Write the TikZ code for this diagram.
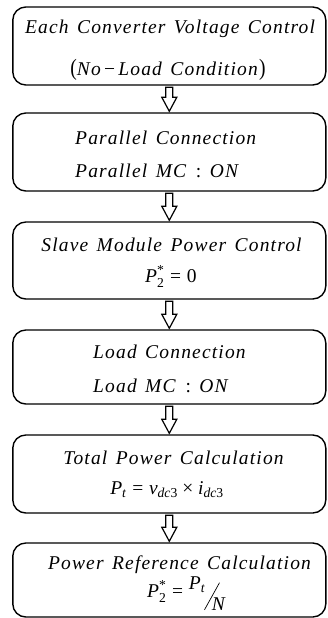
\documentclass[tikz,border=0pt]{standalone}
\usepackage{fontspec}
\usepackage{amsmath}
\setmainfont{Liberation Serif}
\newfontfamily\lsfont[LetterSpace=6,WordSpace=1.4]{Liberation Serif}
\usetikzlibrary{calc}
\newcommand{\tx}[1]{\text{\itshape #1}}
\newcommand{\up}[1]{\text{\upshape #1}}
\tikzset{
  flowbox/.style={draw, line width=1.4pt, rounded corners=13pt, minimum width=313pt, inner sep=0pt},
  wordtext/.style={font=\fontsize{19.5}{23}\lsfont\itshape, inner sep=0pt, anchor=base},
  mathtext/.style={font=\fontsize{19.5}{23}\selectfont, inner sep=0pt, anchor=base},
  blockarrow/.style={draw, line width=1.2pt, fill=white, line join=miter}
}
\begin{document}
\begin{tikzpicture}[x=1pt,y=-1pt]
\useasboundingbox (0,0) rectangle (327,618);
% boxes
\node[flowbox, minimum height=78pt] (b1) at (169.3,46) {};
\node[flowbox, minimum height=78pt] (b2) at (169.3,152) {};
\node[flowbox, minimum height=77pt] (b3) at (169.3,260.5) {};
\node[flowbox, minimum height=74pt] (b4) at (169.3,367) {};
\node[flowbox, minimum height=78pt] (b5) at (169.3,474) {};
\node[flowbox, minimum height=74pt] (b6) at (169.3,580) {};
% texts
\node[wordtext] (t1a) at (170,34) {Each Converter Voltage Control};
\node[wordtext] (t1b) at (168,75) {\textup{\scalebox{1}[1.2]{(}}No\,\textup{−}\,Load Condition\textup{\scalebox{1}[1.2]{)}}};
\node[wordtext, anchor=base west] (t2a) at (75,144) {Parallel Connection};
\node[wordtext, anchor=base west] (t2b) at (75,177) {Parallel MC \textup{:} ON};
\node[wordtext] (t3a) at (171.5,251) {Slave Module Power Control};
\node[mathtext] (t3b) at (171,282) {$\tx{P}_{\up{2}}^{\up{*}} \mathrel{\up{=}} \up{0}$};
\node[wordtext, anchor=base west] (t4a) at (93,358) {Load Connection};
\node[wordtext, anchor=base west] (t4b) at (93,392) {Load MC \textup{:} ON};
\node[wordtext] (t5a) at (173.5,464) {Total Power Calculation};
\node[mathtext] (t5b) at (167,494) {$\tx{P}_{\tx{t}} \mathrel{\up{=}} \tx{v}_{\tx{dc}\up{3}} \mathbin{\up{×}} \tx{i}_{\tx{dc}\up{3}}$};
\node[wordtext] (t6a) at (179.5,569) {Power Reference Calculation};
\node[mathtext] (t6b) at (186,597) {$\tx{P}_{\up{2}}^{\up{*}} \mathrel{\up{=}} \raisebox{8pt}{$\tx{P}_{\tx{t}}$}\kern-1pt\raisebox{-13pt}{\rotatebox{61}{\rule{31pt}{0.7pt}}}\kern-8pt\raisebox{-13pt}{\tx{N}}$};
% arrows
\foreach \a/\b in {b1/b2,b2/b3,b3/b4,b4/b5,b5/b6}{
  \draw[blockarrow] ($(\a.south)+(-3.5,1.5)$) -- ($(\b.north)+(-3.5,-15)$) -- ($(\b.north)+(-7.5,-15)$) -- ($(\b.north)+(0,-1)$) -- ($(\b.north)+(7.5,-15)$) -- ($(\b.north)+(3.5,-15)$) -- ($(\a.south)+(3.5,1.5)$) -- cycle;
}
\end{tikzpicture}
\end{document}
